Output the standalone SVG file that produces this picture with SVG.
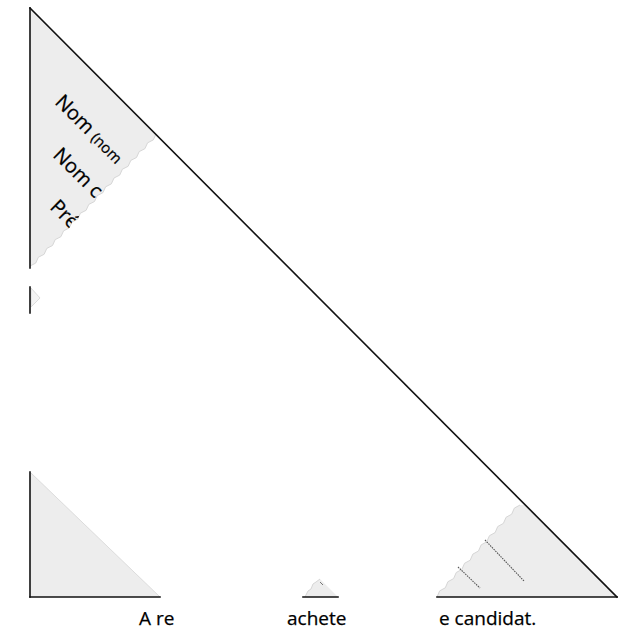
<svg xmlns="http://www.w3.org/2000/svg" width="636" height="642" viewBox="0 0 636 642">
  <style>
    .paper { fill: #ededed; }
    .torn { fill: none; stroke: #d6d6d6; stroke-width: 1; }
    .edge { stroke: #111; stroke-width: 1.6; fill: none; stroke-linecap: square; }
    .lbl { font-family: "Open Sans", "Noto Sans", "DejaVu Sans", sans-serif; fill: #000; stroke: #000; stroke-width: 0.25; }
    .dots { stroke: #555; stroke-width: 1.1; stroke-dasharray: 1.5 1; fill: none; }
  </style>
  <defs>
    <clipPath id="topClip">
      <polygon points="30,8 156,134 153.3,139.9 147.6,142.8 144.9,148.7 139.2,151.6 136.5,157.5 130.8,160.4 128.1,166.3 122.4,169.2 119.7,175.1 114,178 111.3,183.9 105.6,186.8 102.9,192.7 97.2,195.6 94.5,201.5 88.8,204.4 86.1,210.3 80.4,213.2 77.7,219.1 72,222 69.3,227.9 63.6,230.8 60.9,236.7 55.2,239.6 52.5,245.5 46.8,248.4 44.1,254.3 38.4,257.2 35.7,263.1 30,266"/>
    </clipPath>
  </defs>
  <rect width="636" height="642" fill="#ffffff"/>

  <g id="top-fragment">
    <polygon class="paper" points="30,8 156,134 153.3,139.9 147.6,142.8 144.9,148.7 139.2,151.6 136.5,157.5 130.8,160.4 128.1,166.3 122.4,169.2 119.7,175.1 114,178 111.3,183.9 105.6,186.8 102.9,192.7 97.2,195.6 94.5,201.5 88.8,204.4 86.1,210.3 80.4,213.2 77.7,219.1 72,222 69.3,227.9 63.6,230.8 60.9,236.7 55.2,239.6 52.5,245.5 46.8,248.4 44.1,254.3 38.4,257.2 35.7,263.1 30,266"/>
    <polyline class="torn" points="156,134 153.3,139.9 147.6,142.8 144.9,148.7 139.2,151.6 136.5,157.5 130.8,160.4 128.1,166.3 122.4,169.2 119.7,175.1 114,178 111.3,183.9 105.6,186.8 102.9,192.7 97.2,195.6 94.5,201.5 88.8,204.4 86.1,210.3 80.4,213.2 77.7,219.1 72,222 69.3,227.9 63.6,230.8 60.9,236.7 55.2,239.6 52.5,245.5 46.8,248.4 44.1,254.3 38.4,257.2 35.7,263.1 30,266"/>
    <g clip-path="url(#topClip)">
      <text class="lbl" font-size="20" transform="translate(54,103) rotate(45)">Nom <tspan font-size="15">(nom</tspan></text>
      <text class="lbl" font-size="20" transform="translate(52,156) rotate(45)">Nom c</text>
      <text class="lbl" font-size="20" transform="translate(49,208) rotate(45)">Pré</text>
    </g>
  </g>

  <g id="left-notch">
    <polygon points="31,288 40,298 31,307" fill="#f4f4f4" stroke="#d4d4d4" stroke-width="0.8"/>
  </g>

  <g id="bottom-left-fragment">
    <polygon class="paper" points="30,472 160,597 30,597"/>
    <line x1="31" y1="473" x2="160" y2="597" stroke="#dcdcdc" stroke-width="1"/>
  </g>

  <g id="bottom-middle-fragment">
    <polygon class="paper" points="305,597 308,591 311,589 313,584 316,582 320,579 338,597"/>
    <polyline class="torn" points="305,597 308,591 311,589 313,584 316,582 320,579"/>
    <line x1="320" y1="582" x2="323" y2="585" stroke="#777" stroke-width="1"/>
  </g>

  <g id="bottom-right-fragment">
    <polygon class="paper" points="437,597 439.65,590.9 445.3,587.8 447.95,581.7 453.6,578.6 456.25,572.5 461.9,569.4 464.55,563.3 470.2,560.2 472.85,554.1 478.5,551 481.15,544.9 486.8,541.8 489.45,535.7 495.1,532.6 497.75,526.5 503.4,523.4 506.05,517.3 511.7,514.2 514.35,508.1 520,505 525.3,505 617,597"/>
    <polyline class="torn" points="437,597 439.65,590.9 445.3,587.8 447.95,581.7 453.6,578.6 456.25,572.5 461.9,569.4 464.55,563.3 470.2,560.2 472.85,554.1 478.5,551 481.15,544.9 486.8,541.8 489.45,535.7 495.1,532.6 497.75,526.5 503.4,523.4 506.05,517.3 511.7,514.2 514.35,508.1 520,505"/>
    <line class="dots" x1="485" y1="540" x2="524" y2="581"/>
    <line class="dots" x1="458" y1="567" x2="480" y2="588"/>
  </g>

  <g id="connectors">
    <line class="edge" x1="30" y1="8" x2="617" y2="597"/>
    <line class="edge" x1="30" y1="8" x2="30" y2="268"/>
    <line class="edge" x1="30" y1="287" x2="30" y2="313"/>
    <line class="edge" x1="30" y1="472" x2="30" y2="597"/>
    <line class="edge" x1="30" y1="597" x2="160" y2="597"/>
    <line class="edge" x1="303" y1="597" x2="338" y2="597"/>
    <line class="edge" x1="437" y1="597" x2="617" y2="597"/>
  </g>

  <g id="caption">
    <text class="lbl" font-size="19" x="139" y="625">A re</text>
    <text class="lbl" font-size="19" x="287" y="625">achete</text>
    <text class="lbl" font-size="19" x="439" y="625">e candidat.</text>
  </g>
</svg>
